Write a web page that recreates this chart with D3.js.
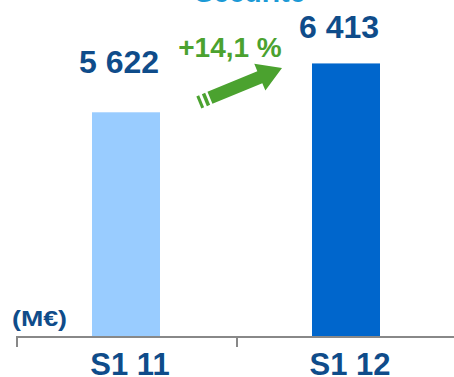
<!DOCTYPE html>
<html>
<head>
<meta charset="utf-8">
<script src="https://cdn.jsdelivr.net/npm/d3@7"></script>
<style>
  body { margin: 0; background: #fff; }
  svg text { font-family: "Liberation Sans", Arial, sans-serif; font-weight: bold; }
</style>
</head>
<body>
<div class="chart"></div>
<script>
var categories = ["S1 11", "S1 12"];
var values = [5622, 6413];
var valueLabels = ["5 622", "6 413"];
var barColors = ["#99ccff", "#0066cc"];
var growthLabel = "+14,1 %";
var unitLabel = "(M\u20ac)";
var titleLabel = "S\u00e9curit\u00e9";

var width = 454, height = 377;
var axisY = 336;
var darkBlue = "#0f4c8a";
var green = "#4ba22f";

var svg = d3.select(".chart")
    .append("svg")
    .attr("width", width)
    .attr("height", height);

// band per category, ticks sit on band edges
var xScale = d3.scaleBand()
    .domain(categories)
    .range([16, 456])
    .padding(0);

// axis does not start at zero in the original
var yScale = d3.scaleLinear()
    .domain([2000, 6420])
    .range([axisY, 63]);

var barWidth = 68;

// title, cut off at the top
svg.append("text")
    .attr("x", 250)
    .attr("y", 2)
    .attr("text-anchor", "middle")
    .style("font-size", "28px")
    .style("fill", "#1c9ad6")
    .text(titleLabel);

svg.selectAll("rect.bar")
    .data(values)
    .enter()
    .append("rect")
    .attr("class", "bar")
    .attr("x", function(d, i) { return xScale(categories[i]) + (xScale.bandwidth() - barWidth) / 2; })
    .attr("y", function(d) { return yScale(d); })
    .attr("width", barWidth)
    .attr("height", function(d) { return axisY - yScale(d); })
    .style("fill", function(d, i) { return barColors[i]; });

// value labels
var labelGap = [39, 25];
svg.selectAll("text.value")
    .data(values)
    .enter()
    .append("text")
    .attr("class", "value")
    .attr("x", function(d, i) { return xScale(categories[i]) + xScale.bandwidth() / 2 - 7; })
    .attr("y", function(d, i) { return yScale(d) - labelGap[i]; })
    .attr("text-anchor", "middle")
    .style("font-size", "32px")
    .style("fill", darkBlue)
    .text(function(d, i) { return valueLabels[i]; });

// axis line + ticks on band edges
var edges = categories.map(function(c) { return xScale(c); }).concat([xScale.range()[1]]);
svg.append("line")
    .attr("x1", xScale.range()[0])
    .attr("x2", xScale.range()[1])
    .attr("y1", axisY + 1)
    .attr("y2", axisY + 1)
    .style("stroke", "#888")
    .style("stroke-width", 2);
svg.selectAll("line.tick")
    .data(edges)
    .enter()
    .append("line")
    .attr("class", "tick")
    .attr("x1", function(d) { return d + 1; })
    .attr("x2", function(d) { return d + 1; })
    .attr("y1", axisY)
    .attr("y2", axisY + 11)
    .style("stroke", "#888")
    .style("stroke-width", 2);

svg.selectAll("text.cat")
    .data(categories)
    .enter()
    .append("text")
    .attr("class", "cat")
    .attr("x", function(d) { return xScale(d) + xScale.bandwidth() / 2 + 4; })
    .attr("y", 375)
    .attr("text-anchor", "middle")
    .style("font-size", "31px")
    .style("fill", darkBlue)
    .text(function(d) { return d; });

svg.append("text")
    .attr("x", 12)
    .attr("y", 326)
    .attr("textLength", 55)
    .attr("lengthAdjust", "spacingAndGlyphs")
    .style("font-size", "22px")
    .style("fill", darkBlue)
    .text(unitLabel);

// growth arrow between the two bars
var arrow = svg.append("g")
    .attr("transform", "translate(282,68) rotate(-22.5)");
arrow.append("path")
    .attr("d", "M0,0 L-24,-14.5 L-24,-6.5 L-78,-6.5 L-78,6.5 L-24,6.5 L-24,14.5 Z")
    .style("fill", green);
arrow.append("rect")
    .attr("x", -84).attr("y", -6.5).attr("width", 3.5).attr("height", 13)
    .style("fill", green);
arrow.append("rect")
    .attr("x", -90).attr("y", -6.5).attr("width", 3).attr("height", 13)
    .style("fill", green);

svg.append("text")
    .attr("x", 230)
    .attr("y", 57)
    .attr("text-anchor", "middle")
    .style("font-size", "28px")
    .style("fill", green)
    .text(growthLabel);
</script>
</body>
</html>
